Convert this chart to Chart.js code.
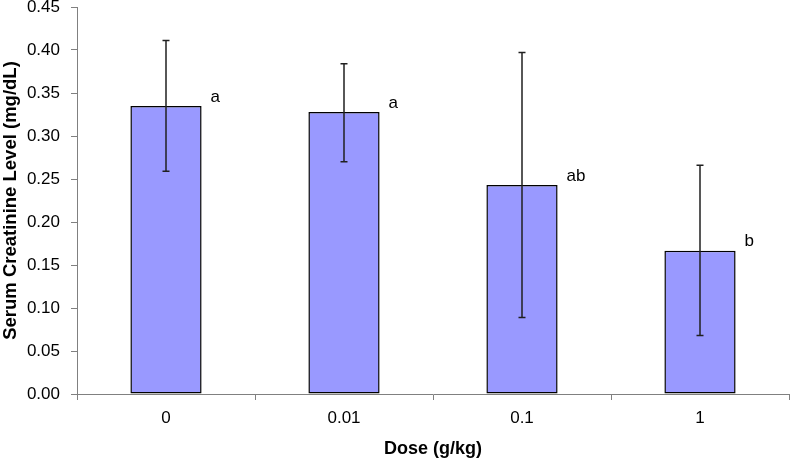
<!DOCTYPE html>
<html>
<head>
<meta charset="utf-8">
<script src="https://cdn.jsdelivr.net/npm/chart.js@4.4.1/dist/chart.umd.min.js"></script>
<style>
  html, body { margin: 0; padding: 0; background: #ffffff; }
  #wrap { width: 792px; height: 460px; }
</style>
</head>
<body>
<div id="wrap"><canvas id="c" width="792" height="460"></canvas></div>
<script>
const categories = ['0', '0.01', '0.1', '1'];
const meanValues = [0.335, 0.328, 0.243, 0.1665];
const errorHigh = [0.411, 0.384, 0.397, 0.266];
const errorLow = [0.259, 0.270, 0.089, 0.068];
const sigLabels = ['a', 'a', 'ab', 'b'];
const yTicks = [0, 0.05, 0.10, 0.15, 0.20, 0.25, 0.30, 0.35, 0.40, 0.45];

const FONT = "'Liberation Sans', Arial, sans-serif";

const errorBarPlugin = {
  id: 'errorBars',
  afterDatasetsDraw(chart) {
    const ctx = chart.ctx;
    const y = chart.scales.y;
    const meta = chart.getDatasetMeta(0);
    ctx.save();
    meta.data.forEach((bar, i) => {
      const x = bar.x;
      const yh = y.getPixelForValue(errorHigh[i]);
      const yl = y.getPixelForValue(errorLow[i]);
      ctx.strokeStyle = '#202020';
      ctx.lineWidth = 1.5;
      ctx.beginPath();
      ctx.moveTo(x, yh); ctx.lineTo(x, yl);
      ctx.moveTo(x - 3.5, yh); ctx.lineTo(x + 3.5, yh);
      ctx.moveTo(x - 3.5, yl); ctx.lineTo(x + 3.5, yl);
      ctx.stroke();
      // significance letter
      const right = bar.x + bar.width / 2;
      ctx.fillStyle = '#000';
      ctx.font = '17px ' + FONT;
      ctx.textAlign = 'left';
      ctx.textBaseline = 'middle';
      ctx.fillText(sigLabels[i], right + 9, bar.y - 9);
    });
    ctx.restore();
  }
};

new Chart(document.getElementById('c'), {
  type: 'bar',
  data: {
    labels: categories,
    datasets: [{
      data: meanValues,
      backgroundColor: '#9999FF',
      borderColor: '#000000',
      borderWidth: 1.5,
      borderSkipped: false,
      barPercentage: 0.40,
      categoryPercentage: 1.0
    }]
  },
  options: {
    responsive: false,
    animation: false,
    devicePixelRatio: 1,
    layout: { padding: { left: 0, right: 3, top: 7, bottom: 0 } },
    plugins: { legend: { display: false }, tooltip: { enabled: false } },
    scales: {
      x: {
        type: 'category',
        offset: true,
        grid: { display: true, drawOnChartArea: false, offset: true, tickLength: 6, color: '#808080' },
        border: { display: true, color: '#808080', width: 1 },
        ticks: { color: '#000', font: { family: FONT, size: 17 }, padding: 8, maxRotation: 0 },
        title: { display: true, text: 'Dose (g/kg)', color: '#000', font: { family: FONT, size: 18, weight: 'bold', lineHeight: 1.2 }, padding: { top: 0, bottom: 0 } },
        afterFit(scale) { scale.height = 66; scale.paddingLeft = 0; scale.paddingRight = 0; }
      },
      y: {
        min: 0,
        max: 0.45,
        afterBuildTicks(scale) { scale.ticks = yTicks.map(v => ({ value: v })); },
        grid: { display: true, drawOnChartArea: false, tickLength: 6, color: '#808080' },
        border: { display: true, color: '#808080', width: 1 },
        ticks: { color: '#000', font: { family: FONT, size: 17 }, padding: 11, callback: v => Number(v).toFixed(2) },
        title: { display: true, text: 'Serum Creatinine Level (mg/dL)', color: '#000', font: { family: FONT, size: 18.5, weight: 'bold', lineHeight: 1.2 }, padding: { top: 0, bottom: 0 } },
        afterFit(scale) { scale.width = 77; scale.paddingTop = 0; scale.paddingBottom = 0; }
      }
    }
  },
  plugins: [errorBarPlugin]
});
</script>
</body>
</html>
